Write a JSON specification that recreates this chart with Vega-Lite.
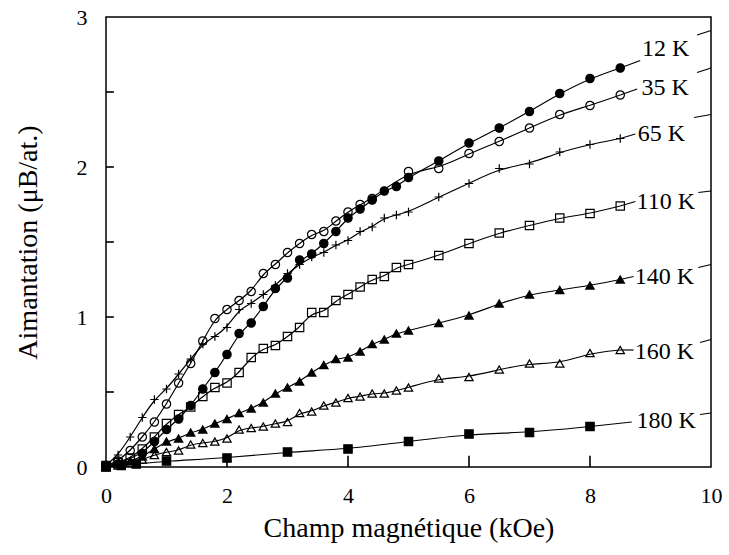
{
  "$schema": "https://vega.github.io/schema/vega-lite/v6.json",
  "width": 605,
  "height": 450,
  "autosize": "none",
  "padding": {"left": 106, "top": 17, "right": 18, "bottom": 88},
  "background": "white",
  "config": {
    "view": {"stroke": "black", "strokeWidth": 1.5},
    "font": "Times New Roman, Liberation Serif, serif",
    "axis": {"grid": false, "domain": false, "ticks": false, "labelColor": "black", "titleColor": "black", "titleFontWeight": "normal",
      "labelFont": "Times New Roman, Liberation Serif, serif", "titleFont": "Times New Roman, Liberation Serif, serif"}
  },
  "datasets": {
    "pts": [
      {"s": "12 K", "x": 0, "y": 0.01}, {"s": "12 K", "x": 0.2, "y": 0.02}, {"s": "12 K", "x": 0.6, "y": 0.09}, {"s": "12 K", "x": 0.8, "y": 0.17},
      {"s": "12 K", "x": 1.0, "y": 0.25}, {"s": "12 K", "x": 1.2, "y": 0.32}, {"s": "12 K", "x": 1.4, "y": 0.41}, {"s": "12 K", "x": 1.6, "y": 0.52},
      {"s": "12 K", "x": 1.8, "y": 0.63}, {"s": "12 K", "x": 2.0, "y": 0.75}, {"s": "12 K", "x": 2.2, "y": 0.89}, {"s": "12 K", "x": 2.4, "y": 0.96},
      {"s": "12 K", "x": 2.6, "y": 1.07}, {"s": "12 K", "x": 2.8, "y": 1.19}, {"s": "12 K", "x": 3.0, "y": 1.26}, {"s": "12 K", "x": 3.2, "y": 1.38},
      {"s": "12 K", "x": 3.4, "y": 1.42}, {"s": "12 K", "x": 3.6, "y": 1.49}, {"s": "12 K", "x": 3.8, "y": 1.57}, {"s": "12 K", "x": 4.0, "y": 1.66},
      {"s": "12 K", "x": 4.2, "y": 1.72}, {"s": "12 K", "x": 4.4, "y": 1.78}, {"s": "12 K", "x": 4.6, "y": 1.84}, {"s": "12 K", "x": 4.8, "y": 1.87},
      {"s": "12 K", "x": 5.0, "y": 1.93}, {"s": "12 K", "x": 5.5, "y": 2.04}, {"s": "12 K", "x": 6.0, "y": 2.16}, {"s": "12 K", "x": 6.5, "y": 2.26},
      {"s": "12 K", "x": 7.0, "y": 2.37}, {"s": "12 K", "x": 7.5, "y": 2.49}, {"s": "12 K", "x": 8.0, "y": 2.59}, {"s": "12 K", "x": 8.5, "y": 2.66},

      {"s": "35 K", "x": 0, "y": 0.01}, {"s": "35 K", "x": 0.2, "y": 0.04}, {"s": "35 K", "x": 0.4, "y": 0.11}, {"s": "35 K", "x": 0.6, "y": 0.2},
      {"s": "35 K", "x": 0.8, "y": 0.30}, {"s": "35 K", "x": 1.0, "y": 0.42}, {"s": "35 K", "x": 1.2, "y": 0.56}, {"s": "35 K", "x": 1.4, "y": 0.69},
      {"s": "35 K", "x": 1.6, "y": 0.84}, {"s": "35 K", "x": 1.8, "y": 0.99}, {"s": "35 K", "x": 2.0, "y": 1.05}, {"s": "35 K", "x": 2.2, "y": 1.11},
      {"s": "35 K", "x": 2.4, "y": 1.17}, {"s": "35 K", "x": 2.6, "y": 1.29}, {"s": "35 K", "x": 2.8, "y": 1.35}, {"s": "35 K", "x": 3.0, "y": 1.43},
      {"s": "35 K", "x": 3.2, "y": 1.49}, {"s": "35 K", "x": 3.4, "y": 1.55}, {"s": "35 K", "x": 3.6, "y": 1.57}, {"s": "35 K", "x": 3.8, "y": 1.64},
      {"s": "35 K", "x": 4.0, "y": 1.70}, {"s": "35 K", "x": 4.2, "y": 1.75}, {"s": "35 K", "x": 4.4, "y": 1.79}, {"s": "35 K", "x": 5.0, "y": 1.97},
      {"s": "35 K", "x": 5.5, "y": 1.99}, {"s": "35 K", "x": 6.0, "y": 2.09}, {"s": "35 K", "x": 6.5, "y": 2.17}, {"s": "35 K", "x": 7.0, "y": 2.26},
      {"s": "35 K", "x": 7.5, "y": 2.35}, {"s": "35 K", "x": 8.0, "y": 2.41}, {"s": "35 K", "x": 8.5, "y": 2.48},

      {"s": "65 K", "x": 0, "y": 0.01}, {"s": "65 K", "x": 0.2, "y": 0.08}, {"s": "65 K", "x": 0.4, "y": 0.2}, {"s": "65 K", "x": 0.6, "y": 0.33},
      {"s": "65 K", "x": 0.8, "y": 0.45}, {"s": "65 K", "x": 1.0, "y": 0.52}, {"s": "65 K", "x": 1.2, "y": 0.62}, {"s": "65 K", "x": 1.4, "y": 0.72},
      {"s": "65 K", "x": 1.6, "y": 0.82}, {"s": "65 K", "x": 1.8, "y": 0.87}, {"s": "65 K", "x": 2.0, "y": 0.93}, {"s": "65 K", "x": 2.2, "y": 1.05},
      {"s": "65 K", "x": 2.4, "y": 1.09}, {"s": "65 K", "x": 2.6, "y": 1.15}, {"s": "65 K", "x": 2.8, "y": 1.21}, {"s": "65 K", "x": 3.0, "y": 1.29},
      {"s": "65 K", "x": 3.2, "y": 1.35}, {"s": "65 K", "x": 3.4, "y": 1.40}, {"s": "65 K", "x": 3.6, "y": 1.43}, {"s": "65 K", "x": 3.8, "y": 1.48},
      {"s": "65 K", "x": 4.0, "y": 1.51}, {"s": "65 K", "x": 4.2, "y": 1.57}, {"s": "65 K", "x": 4.4, "y": 1.60}, {"s": "65 K", "x": 4.6, "y": 1.66},
      {"s": "65 K", "x": 4.8, "y": 1.68}, {"s": "65 K", "x": 5.0, "y": 1.70}, {"s": "65 K", "x": 5.5, "y": 1.80}, {"s": "65 K", "x": 6.0, "y": 1.89},
      {"s": "65 K", "x": 6.5, "y": 1.99}, {"s": "65 K", "x": 7.0, "y": 2.02}, {"s": "65 K", "x": 7.5, "y": 2.10}, {"s": "65 K", "x": 8.0, "y": 2.15},
      {"s": "65 K", "x": 8.5, "y": 2.19},

      {"s": "110 K", "x": 0, "y": 0.01}, {"s": "110 K", "x": 0.2, "y": 0.03}, {"s": "110 K", "x": 0.4, "y": 0.06}, {"s": "110 K", "x": 0.6, "y": 0.12},
      {"s": "110 K", "x": 0.8, "y": 0.2}, {"s": "110 K", "x": 1.0, "y": 0.29}, {"s": "110 K", "x": 1.2, "y": 0.35}, {"s": "110 K", "x": 1.4, "y": 0.40},
      {"s": "110 K", "x": 1.6, "y": 0.47}, {"s": "110 K", "x": 1.8, "y": 0.53}, {"s": "110 K", "x": 2.0, "y": 0.56}, {"s": "110 K", "x": 2.2, "y": 0.63},
      {"s": "110 K", "x": 2.4, "y": 0.73}, {"s": "110 K", "x": 2.6, "y": 0.79}, {"s": "110 K", "x": 2.8, "y": 0.81}, {"s": "110 K", "x": 3.0, "y": 0.87},
      {"s": "110 K", "x": 3.2, "y": 0.93}, {"s": "110 K", "x": 3.4, "y": 1.03}, {"s": "110 K", "x": 3.6, "y": 1.03}, {"s": "110 K", "x": 3.8, "y": 1.11},
      {"s": "110 K", "x": 4.0, "y": 1.15}, {"s": "110 K", "x": 4.2, "y": 1.20}, {"s": "110 K", "x": 4.4, "y": 1.25}, {"s": "110 K", "x": 4.6, "y": 1.27},
      {"s": "110 K", "x": 4.8, "y": 1.33}, {"s": "110 K", "x": 5.0, "y": 1.35}, {"s": "110 K", "x": 5.5, "y": 1.41}, {"s": "110 K", "x": 6.0, "y": 1.49},
      {"s": "110 K", "x": 6.5, "y": 1.56}, {"s": "110 K", "x": 7.0, "y": 1.61}, {"s": "110 K", "x": 7.5, "y": 1.66}, {"s": "110 K", "x": 8.0, "y": 1.69},
      {"s": "110 K", "x": 8.5, "y": 1.74},

      {"s": "140 K", "x": 0, "y": 0.0}, {"s": "140 K", "x": 0.2, "y": 0.02}, {"s": "140 K", "x": 0.4, "y": 0.04}, {"s": "140 K", "x": 0.6, "y": 0.07},
      {"s": "140 K", "x": 0.8, "y": 0.12}, {"s": "140 K", "x": 1.0, "y": 0.17}, {"s": "140 K", "x": 1.2, "y": 0.19}, {"s": "140 K", "x": 1.4, "y": 0.23},
      {"s": "140 K", "x": 1.6, "y": 0.25}, {"s": "140 K", "x": 1.8, "y": 0.29}, {"s": "140 K", "x": 2.0, "y": 0.32}, {"s": "140 K", "x": 2.2, "y": 0.36},
      {"s": "140 K", "x": 2.4, "y": 0.39}, {"s": "140 K", "x": 2.6, "y": 0.43}, {"s": "140 K", "x": 2.8, "y": 0.49}, {"s": "140 K", "x": 3.0, "y": 0.53},
      {"s": "140 K", "x": 3.2, "y": 0.57}, {"s": "140 K", "x": 3.4, "y": 0.63}, {"s": "140 K", "x": 3.6, "y": 0.68}, {"s": "140 K", "x": 3.8, "y": 0.72},
      {"s": "140 K", "x": 4.0, "y": 0.73}, {"s": "140 K", "x": 4.2, "y": 0.77}, {"s": "140 K", "x": 4.4, "y": 0.82}, {"s": "140 K", "x": 4.6, "y": 0.85},
      {"s": "140 K", "x": 4.8, "y": 0.89}, {"s": "140 K", "x": 5.0, "y": 0.91}, {"s": "140 K", "x": 5.5, "y": 0.96}, {"s": "140 K", "x": 6.0, "y": 1.01},
      {"s": "140 K", "x": 6.5, "y": 1.09}, {"s": "140 K", "x": 7.0, "y": 1.15}, {"s": "140 K", "x": 7.5, "y": 1.18}, {"s": "140 K", "x": 8.0, "y": 1.21},
      {"s": "140 K", "x": 8.5, "y": 1.25},

      {"s": "160 K", "x": 0, "y": 0.0}, {"s": "160 K", "x": 0.2, "y": 0.01}, {"s": "160 K", "x": 0.4, "y": 0.03}, {"s": "160 K", "x": 0.6, "y": 0.05},
      {"s": "160 K", "x": 0.8, "y": 0.08}, {"s": "160 K", "x": 1.0, "y": 0.10}, {"s": "160 K", "x": 1.2, "y": 0.11}, {"s": "160 K", "x": 1.4, "y": 0.15},
      {"s": "160 K", "x": 1.6, "y": 0.16}, {"s": "160 K", "x": 1.8, "y": 0.17}, {"s": "160 K", "x": 2.0, "y": 0.19}, {"s": "160 K", "x": 2.2, "y": 0.25},
      {"s": "160 K", "x": 2.4, "y": 0.26}, {"s": "160 K", "x": 2.6, "y": 0.27}, {"s": "160 K", "x": 2.8, "y": 0.29}, {"s": "160 K", "x": 3.0, "y": 0.30},
      {"s": "160 K", "x": 3.2, "y": 0.36}, {"s": "160 K", "x": 3.4, "y": 0.37}, {"s": "160 K", "x": 3.6, "y": 0.41}, {"s": "160 K", "x": 3.8, "y": 0.43},
      {"s": "160 K", "x": 4.0, "y": 0.46}, {"s": "160 K", "x": 4.2, "y": 0.47}, {"s": "160 K", "x": 4.4, "y": 0.49}, {"s": "160 K", "x": 4.6, "y": 0.49},
      {"s": "160 K", "x": 4.8, "y": 0.51}, {"s": "160 K", "x": 5.0, "y": 0.53}, {"s": "160 K", "x": 5.5, "y": 0.59}, {"s": "160 K", "x": 6.0, "y": 0.60},
      {"s": "160 K", "x": 6.5, "y": 0.65}, {"s": "160 K", "x": 7.0, "y": 0.69}, {"s": "160 K", "x": 7.5, "y": 0.69}, {"s": "160 K", "x": 8.0, "y": 0.76},
      {"s": "160 K", "x": 8.5, "y": 0.78},

      {"s": "180 K", "x": 0, "y": 0.0}, {"s": "180 K", "x": 0.25, "y": 0.01}, {"s": "180 K", "x": 0.5, "y": 0.02}, {"s": "180 K", "x": 1.0, "y": 0.04},
      {"s": "180 K", "x": 2.0, "y": 0.06}, {"s": "180 K", "x": 3.0, "y": 0.10}, {"s": "180 K", "x": 4.0, "y": 0.12}, {"s": "180 K", "x": 5.0, "y": 0.17},
      {"s": "180 K", "x": 6.0, "y": 0.22}, {"s": "180 K", "x": 7.0, "y": 0.23}, {"s": "180 K", "x": 8.0, "y": 0.27}
    ],
    "ext": [
      {"s": "12 K", "part": 1, "x": 8.5, "y": 2.66}, {"s": "12 K", "part": 1, "x": 8.83, "y": 2.71},
      {"s": "12 K", "part": 2, "x": 9.77, "y": 2.88}, {"s": "12 K", "part": 2, "x": 10, "y": 2.91},
      {"s": "35 K", "part": 1, "x": 8.5, "y": 2.48}, {"s": "35 K", "part": 1, "x": 8.78, "y": 2.52},
      {"s": "35 K", "part": 2, "x": 9.77, "y": 2.63}, {"s": "35 K", "part": 2, "x": 10, "y": 2.66},
      {"s": "65 K", "part": 1, "x": 8.5, "y": 2.19}, {"s": "65 K", "part": 1, "x": 8.75, "y": 2.22},
      {"s": "65 K", "part": 2, "x": 9.72, "y": 2.33}, {"s": "65 K", "part": 2, "x": 10, "y": 2.35},
      {"s": "110 K", "part": 1, "x": 8.5, "y": 1.74}, {"s": "110 K", "part": 1, "x": 8.75, "y": 1.77},
      {"s": "110 K", "part": 2, "x": 9.79, "y": 1.83}, {"s": "110 K", "part": 2, "x": 10, "y": 1.84},
      {"s": "140 K", "part": 1, "x": 8.5, "y": 1.25}, {"s": "140 K", "part": 1, "x": 8.72, "y": 1.27},
      {"s": "140 K", "part": 2, "x": 9.79, "y": 1.33}, {"s": "140 K", "part": 2, "x": 10, "y": 1.35},
      {"s": "160 K", "part": 1, "x": 8.5, "y": 0.78}, {"s": "160 K", "part": 1, "x": 8.72, "y": 0.78},
      {"s": "160 K", "part": 2, "x": 9.82, "y": 0.83}, {"s": "160 K", "part": 2, "x": 10, "y": 0.85},
      {"s": "180 K", "part": 1, "x": 8.0, "y": 0.27}, {"s": "180 K", "part": 1, "x": 8.69, "y": 0.30},
      {"s": "180 K", "part": 2, "x": 9.82, "y": 0.35}, {"s": "180 K", "part": 2, "x": 10, "y": 0.36}
    ],
    "labels": [
      {"s": "12 K", "x": 8.86, "y": 2.79},
      {"s": "35 K", "x": 8.85, "y": 2.53},
      {"s": "65 K", "x": 8.79, "y": 2.22},
      {"s": "110 K", "x": 8.77, "y": 1.77},
      {"s": "140 K", "x": 8.74, "y": 1.27},
      {"s": "160 K", "x": 8.74, "y": 0.77},
      {"s": "180 K", "x": 8.77, "y": 0.31}
    ],
    "xticks": [{"v": 2}, {"v": 4}, {"v": 6}, {"v": 8}],
    "yticks": [{"v": 0.5}, {"v": 1}, {"v": 1.5}, {"v": 2}, {"v": 2.5}]
  },
  "layer": [
    {
      "data": {"name": "pts"},
      "mark": {"type": "line", "interpolate": "basis", "color": "black", "strokeWidth": 1.2},
      "encoding": {
        "x": {"field": "x", "type": "quantitative",
          "scale": {"domain": [0, 10], "nice": false},
          "axis": {"values": [0, 2, 4, 6, 8, 10], "format": "d", "labelPadding": 18, "labelFontSize": 22, "labelFlush": false,
            "title": "Champ magnétique (kOe)", "titleFontSize": 28, "titlePadding": 8}},
        "y": {"field": "y", "type": "quantitative",
          "scale": {"domain": [0, 3], "nice": false},
          "axis": {"values": [0, 1, 2, 3], "format": "d", "labelPadding": 19, "labelFontSize": 22, "labelFlush": false,
            "title": "Aimantation (μB/at.)", "titleFontSize": 28, "titlePadding": 34}},
        "detail": {"field": "s"}}
    },
    {
      "data": {"name": "ext"},
      "mark": {"type": "line", "color": "black", "strokeWidth": 1.2},
      "encoding": {"x": {"field": "x", "type": "quantitative"}, "y": {"field": "y", "type": "quantitative"},
        "detail": [{"field": "s"}, {"field": "part"}]}
    },
    {
      "data": {"name": "pts"},
      "mark": {"type": "point", "opacity": 1, "stroke": "black", "strokeWidth": 1.2},
      "encoding": {
        "x": {"field": "x", "type": "quantitative"}, "y": {"field": "y", "type": "quantitative"},
        "shape": {"field": "s", "legend": null, "scale": {"domain": ["12 K", "35 K", "65 K", "110 K", "140 K", "160 K", "180 K"],
          "range": ["circle", "circle", "M-1,0L1,0M0,-1L0,1", "square", "triangle-up", "triangle-up", "square"]}},
        "fill": {"field": "s", "legend": null, "scale": {"domain": ["12 K", "35 K", "65 K", "110 K", "140 K", "160 K", "180 K"],
          "range": ["black", "transparent", "transparent", "transparent", "black", "transparent", "black"]}},
        "size": {"field": "s", "legend": null, "scale": {"domain": ["12 K", "35 K", "65 K", "110 K", "140 K", "160 K", "180 K"],
          "range": [70, 70, 110, 75, 75, 75, 65]}}
      }
    },
    {
      "data": {"name": "labels"},
      "mark": {"type": "text", "align": "left", "baseline": "middle", "fontSize": 24, "font": "Times New Roman, Liberation Serif, serif", "color": "black"},
      "encoding": {"x": {"field": "x", "type": "quantitative"}, "y": {"field": "y", "type": "quantitative"}, "text": {"field": "s"}}
    },
    {
      "data": {"name": "xticks"},
      "mark": {"type": "rule", "color": "black", "strokeWidth": 1.6},
      "encoding": {"x": {"field": "v", "type": "quantitative"}, "y": {"datum": 0}, "y2": {"datum": 0.075}}
    },
    {
      "data": {"name": "yticks"},
      "mark": {"type": "rule", "color": "black", "strokeWidth": 1.6},
      "encoding": {"y": {"field": "v", "type": "quantitative"}, "x": {"datum": 0}, "x2": {"datum": 0.13}}
    }
  ]
}
